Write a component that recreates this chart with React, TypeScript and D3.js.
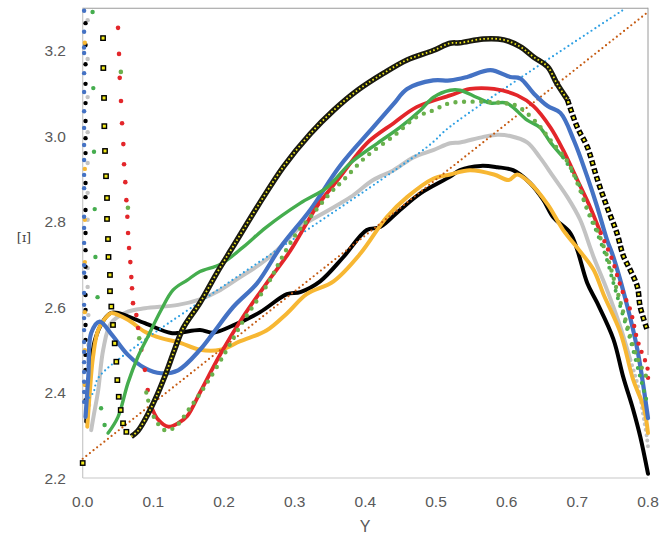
import React from "react";
import * as d3 from "d3";

type P = [number, number];

const xTicks = [0, 0.1, 0.2, 0.3, 0.4, 0.5, 0.6, 0.7, 0.8];
const yTicks = [2.2, 2.4, 2.6, 2.8, 3.0, 3.2];
const xTitle = "Y";
const yTitle = "[ɪ]";

// Black series
const blackDots: P[] = [
  [0.004, 3.264], [0.004, 3.213], [0.004, 3.168], [0.004, 3.122], [0.004, 3.077], [0.004, 3.035],
  [0.004, 2.995], [0.004, 2.96], [0.004, 2.89], [0.004, 2.857], [0.004, 2.827], [0.004, 2.773],
  [0.004, 2.733], [0.004, 2.694], [0.004, 2.67], [0.004, 2.628], [0.004, 2.593], [0.004, 2.558],
  [0.004, 2.523], [0.004, 2.488], [0.004, 2.453], [0.004, 2.418], [0.004, 2.382],
];
const blackLine: P[] = [
  [0.005, 2.332], [0.01, 2.44], [0.0174, 2.523], [0.03, 2.57], [0.04, 2.586], [0.05, 2.586],
  [0.088, 2.562], [0.125, 2.539], [0.138, 2.54], [0.166, 2.546], [0.185, 2.54], [0.213, 2.557],
  [0.251, 2.588], [0.289, 2.63], [0.308, 2.635], [0.336, 2.66], [0.369, 2.717], [0.402, 2.78],
  [0.421, 2.787], [0.449, 2.827], [0.478, 2.866], [0.52, 2.905], [0.534, 2.92], [0.563, 2.93],
  [0.587, 2.927], [0.609, 2.92], [0.633, 2.89], [0.652, 2.85], [0.666, 2.81], [0.69, 2.773],
  [0.7, 2.733], [0.714, 2.656], [0.728, 2.61], [0.751, 2.525], [0.765, 2.436], [0.779, 2.36],
  [0.789, 2.297], [0.8, 2.21],
];

// Blue series
const blueDots: P[] = [
  [0.002, 3.293], [0.002, 3.244], [0.002, 3.207], [0.002, 3.194], [0.002, 3.147], [0.002, 3.103],
  [0.002, 3.058], [0.002, 3.019], [0.002, 2.979], [0.002, 2.944], [0.002, 2.909], [0.002, 2.878],
  [0.002, 2.811], [0.002, 2.785], [0.002, 2.75], [0.002, 2.698], [0.002, 2.68], [0.002, 2.633],
  [0.002, 2.605], [0.002, 2.574], [0.002, 2.546], [0.002, 2.518], [0.002, 2.495], [0.002, 2.471],
  [0.002, 2.448], [0.002, 2.425], [0.002, 2.401], [0.002, 2.378],
];
const blueLine: P[] = [
  [0.004, 2.343], [0.008, 2.44], [0.012, 2.539], [0.024, 2.566], [0.04, 2.538], [0.064, 2.488],
  [0.088, 2.457], [0.111, 2.445], [0.135, 2.452], [0.166, 2.5], [0.185, 2.54], [0.213, 2.6],
  [0.247, 2.656], [0.28, 2.74], [0.322, 2.827], [0.364, 2.93], [0.411, 3.02], [0.44, 3.075],
  [0.459, 3.11], [0.496, 3.13], [0.52, 3.13], [0.544, 3.138], [0.577, 3.154], [0.605, 3.138],
  [0.619, 3.135], [0.638, 3.1], [0.658, 3.07], [0.676, 3.054], [0.695, 2.99], [0.714, 2.905],
  [0.728, 2.835], [0.742, 2.757], [0.751, 2.717], [0.771, 2.6], [0.785, 2.5], [0.8, 2.34],
];

// Gray series
const grayDots: P[] = [
  [0.007, 3.271], [0.007, 3.18], [0.007, 3.091], [0.007, 3.009], [0.007, 2.937], [0.007, 2.867],
  [0.007, 2.804], [0.007, 2.691], [0.007, 2.647], [0.008, 2.581], [0.008, 2.511], [0.009, 2.441],
  [0.009, 2.371],
];
const grayLine: P[] = [
  [0.012, 2.312], [0.016, 2.35], [0.022, 2.406], [0.029, 2.5], [0.04, 2.562], [0.064, 2.589],
  [0.088, 2.597], [0.135, 2.605], [0.166, 2.618], [0.195, 2.64], [0.223, 2.67], [0.251, 2.7],
  [0.27, 2.725], [0.308, 2.787], [0.341, 2.82], [0.379, 2.857], [0.411, 2.897], [0.44, 2.92],
  [0.468, 2.95], [0.496, 2.967], [0.52, 2.983], [0.534, 2.985], [0.567, 2.998], [0.587, 3.003],
  [0.605, 3.0], [0.629, 2.985], [0.647, 2.95], [0.666, 2.905], [0.686, 2.857], [0.704, 2.804],
  [0.718, 2.74], [0.723, 2.717], [0.742, 2.64], [0.761, 2.553], [0.775, 2.476],
];
const grayTail: P[] = [
  [0.775, 2.476], [0.78, 2.45], [0.785, 2.42], [0.789, 2.39], [0.792, 2.36], [0.795, 2.33],
  [0.798, 2.3], [0.8, 2.273],
];

// Gold series
const goldDots: P[] = [
  [0.003, 3.218], [0.003, 2.923], [0.003, 2.804], [0.003, 2.705], [0.003, 2.588], [0.003, 2.499],
  [0.003, 2.418],
];
const goldLine: P[] = [
  [0.0065, 2.32], [0.01, 2.4], [0.0146, 2.483], [0.022, 2.546], [0.036, 2.581], [0.041, 2.586],
  [0.064, 2.57], [0.088, 2.542], [0.111, 2.527], [0.135, 2.518], [0.166, 2.5], [0.195, 2.5],
  [0.223, 2.52], [0.26, 2.545], [0.289, 2.585], [0.317, 2.63], [0.355, 2.66], [0.393, 2.725],
  [0.43, 2.81], [0.459, 2.857], [0.496, 2.9], [0.52, 2.91], [0.548, 2.92], [0.582, 2.91],
  [0.603, 2.897], [0.615, 2.91], [0.633, 2.89], [0.658, 2.84], [0.68, 2.78], [0.704, 2.73],
  [0.723, 2.687], [0.737, 2.63], [0.761, 2.54], [0.779, 2.43], [0.794, 2.365], [0.8, 2.305],
];

// Red series
const redDots: P[] = [
  [0.05, 3.253], [0.0514, 3.192], [0.0524, 3.136], [0.0542, 3.082], [0.0557, 3.03], [0.0575, 2.981],
  [0.0585, 2.934], [0.0603, 2.892], [0.0618, 2.85], [0.0632, 2.811], [0.0642, 2.773], [0.0656, 2.738],
  [0.0674, 2.705], [0.0688, 2.67], [0.0698, 2.644], [0.0712, 2.609], [0.0759, 2.581], [0.0783, 2.551],
  [0.083, 2.5], [0.088, 2.453], [0.092, 2.406],
];
const redLine: P[] = [
  [0.097, 2.367], [0.107, 2.336], [0.121, 2.32], [0.135, 2.328], [0.148, 2.345], [0.166, 2.4],
  [0.195, 2.49], [0.227, 2.577], [0.26, 2.655], [0.294, 2.732], [0.331, 2.834], [0.364, 2.904],
  [0.402, 2.983], [0.44, 3.03], [0.473, 3.068], [0.52, 3.095], [0.548, 3.11], [0.582, 3.11],
  [0.615, 3.095], [0.638, 3.07], [0.662, 3.02], [0.68, 2.967], [0.7, 2.897], [0.718, 2.834],
  [0.733, 2.773],
];
const redTail: P[] = [
  [0.733, 2.773], [0.742, 2.74], [0.751, 2.703], [0.758, 2.665], [0.765, 2.632], [0.775, 2.593],
  [0.785, 2.523], [0.792, 2.49], [0.799, 2.46], [0.8, 2.42],
];

// Green (solid) series
const greenDots: P[] = [
  [0.014, 3.29], [0.015, 3.112], [0.016, 2.963], [0.017, 2.829], [0.018, 2.717], [0.021, 2.623],
  [0.026, 2.363], [0.031, 2.324],
];
const greenLine: P[] = [
  [0.036, 2.305], [0.05, 2.343], [0.064, 2.422], [0.078, 2.483], [0.092, 2.53], [0.111, 2.593],
  [0.128, 2.64], [0.148, 2.663], [0.166, 2.683], [0.195, 2.7], [0.227, 2.74], [0.26, 2.787],
  [0.308, 2.843], [0.346, 2.88], [0.379, 2.937], [0.417, 2.983], [0.449, 3.02], [0.478, 3.06],
  [0.496, 3.09], [0.52, 3.107], [0.534, 3.107], [0.558, 3.09], [0.577, 3.077], [0.6, 3.077],
  [0.629, 3.037], [0.647, 3.02], [0.662, 2.985], [0.68, 2.95],
];
const greenTail: P[] = [
  [0.68, 2.95], [0.695, 2.91], [0.704, 2.88], [0.709, 2.85], [0.718, 2.81], [0.728, 2.773],
  [0.742, 2.71], [0.751, 2.656], [0.761, 2.6], [0.775, 2.523], [0.789, 2.436], [0.799, 2.376],
];

// Green (dotted) series
const green2Dots: P[] = [[0.054, 3.15], [0.064, 2.832], [0.08, 2.527]];
const green2Line: P[] = [
  [0.09, 2.4], [0.1, 2.345], [0.116, 2.312], [0.13, 2.318], [0.15, 2.36], [0.175, 2.42],
  [0.204, 2.5], [0.227, 2.567], [0.247, 2.616], [0.265, 2.663], [0.28, 2.71], [0.303, 2.773],
  [0.322, 2.81], [0.35, 2.866], [0.369, 2.897], [0.4, 2.95], [0.44, 3.0], [0.473, 3.045],
  [0.496, 3.06], [0.52, 3.077], [0.567, 3.08], [0.596, 3.077], [0.615, 3.07], [0.643, 3.03],
  [0.662, 2.99], [0.686, 2.94], [0.7, 2.89], [0.714, 2.83], [0.728, 2.78], [0.742, 2.72],
  [0.756, 2.64], [0.77, 2.56], [0.785, 2.48], [0.8, 2.43],
];

// Square-marker series
const squareDots: P[] = [
  [0.0, 2.235], [0.0288, 3.229], [0.0292, 3.159], [0.0302, 3.089], [0.0306, 3.023], [0.0316, 2.965],
  [0.033, 2.906], [0.0344, 2.855], [0.0344, 2.806], [0.0358, 2.759], [0.0365, 2.717], [0.0386, 2.675],
  [0.0386, 2.637], [0.0405, 2.601], [0.0429, 2.558], [0.0453, 2.515], [0.0476, 2.472], [0.049, 2.429],
  [0.051, 2.39], [0.0538, 2.359], [0.0571, 2.328], [0.0618, 2.308],
];
const squareLine: P[] = [
  [0.0688, 2.297], [0.078, 2.31], [0.088, 2.336], [0.102, 2.382], [0.116, 2.437], [0.13, 2.5],
  [0.142, 2.55], [0.166, 2.61], [0.19, 2.68], [0.213, 2.742], [0.247, 2.834], [0.284, 2.928],
  [0.322, 3.005], [0.355, 3.06], [0.389, 3.107], [0.426, 3.147], [0.459, 3.178], [0.496, 3.2],
  [0.52, 3.217], [0.534, 3.218], [0.567, 3.227], [0.596, 3.225], [0.619, 3.209], [0.638, 3.185],
  [0.658, 3.162], [0.671, 3.123], [0.686, 3.085],
];
const squareTail: P[] = [
  [0.686, 3.085], [0.7, 3.02], [0.714, 2.975], [0.728, 2.9], [0.742, 2.834], [0.756, 2.773],
  [0.765, 2.72], [0.775, 2.686], [0.785, 2.647], [0.789, 2.6], [0.799, 2.546],
];

// Dotted trend lines
const lightBlueLine: P[] = [
  [0.005, 2.38], [0.015, 2.4], [0.022, 2.434], [0.082, 2.516], [0.166, 2.612], [0.488, 2.975],
  [0.52, 3.022], [0.765, 3.295],
];
const brownLine: P[] = [[0.0, 2.245], [0.8, 3.29]];

const W = 670;
const H = 534;
const LEFT = 82.7;
const RIGHT = 648;
const TOP = 7.75;
const BOTTOM = 478;

const C = {
  black: "#000000",
  blue: "#4472c4",
  gray: "#c3c3c3",
  gold: "#f7b733",
  red: "#e3262a",
  green: "#45ad4e",
  green2: "#6ab04c",
  lightBlue: "#2d9fe3",
  brown: "#c55a11",
  sqYellow: "#f2ea1c",
  text: "#595959",
};

export default function App() {
  const x = d3.scaleLinear().domain([0, 0.8]).range([LEFT, RIGHT]);
  const y = d3.scaleLinear().domain([2.2, 3.3]).range([BOTTOM, TOP]);
  const line = d3
    .line<P>()
    .x((d) => x(d[0]))
    .y((d) => y(d[1]))
    .curve(d3.curveCatmullRom.alpha(0.5));
  const straight = d3
    .line<P>()
    .x((d) => x(d[0]))
    .y((d) => y(d[1]));

  const dots = (pts: P[], color: string, r: number, key: string) =>
    pts.map((d, i) => <circle key={key + i} cx={x(d[0])} cy={y(d[1])} r={r} fill={color} />);

  const font = "'Liberation Sans', Arial, sans-serif";

  return (
    <svg
      width={W}
      height={H}
      style={{ position: "absolute", left: 0, top: 0, display: "block", background: "#fff" }}
    >
      <defs>
        <clipPath id="plot">
          <rect x={LEFT - 4} y={TOP - 2} width={RIGHT - LEFT + 8} height={BOTTOM - TOP + 4} />
        </clipPath>
      </defs>
      {/* frame */}
      <line x1={LEFT} x2={RIGHT} y1={TOP + 0.5} y2={TOP + 0.5} stroke="#9a9a9a" strokeWidth={1.2} />
      <line x1={RIGHT} x2={RIGHT} y1={TOP} y2={355} stroke="#9a9a9a" strokeWidth={1} />
      <line x1={LEFT} x2={LEFT} y1={TOP} y2={BOTTOM} stroke="#c8c8c8" strokeWidth={1.2} />
      <line x1={LEFT} x2={RIGHT} y1={BOTTOM} y2={BOTTOM} stroke="#c8c8c8" strokeWidth={1.2} />

      {/* tick labels */}
      {yTicks.map((t) => (
        <text
          key={"y" + t}
          x={66}
          y={y(t) + 5.5}
          textAnchor="end"
          fontFamily={font}
          fontSize={15.5}
          fill={C.text}
        >
          {t.toFixed(1)}
        </text>
      ))}
      {xTicks.map((t) => (
        <text
          key={"x" + t}
          x={x(t)}
          y={507}
          textAnchor="middle"
          fontFamily={font}
          fontSize={15.5}
          fill={C.text}
        >
          {t.toFixed(1)}
        </text>
      ))}
      <text x={365} y={532} textAnchor="middle" fontFamily={font} fontSize={16} fill={C.text}>
        {xTitle}
      </text>
      <text
        x={24}
        y={242}
        textAnchor="middle"
        fontFamily="'DejaVu Serif', 'Liberation Serif', serif"
        fontSize={13}
        fill="#444"
      >
        {yTitle}
      </text>

      <g clipPath="url(#plot)">
        {/* gray */}
        <path d={line(grayLine) ?? ""} fill="none" stroke={C.gray} strokeWidth={4} strokeLinejoin="round" strokeLinecap="round" />
        <path d={line(grayTail) ?? ""} fill="none" stroke={C.gray} strokeWidth={4} strokeDasharray="0 5.5" strokeLinecap="round" />
        {dots(grayDots, C.gray, 2.2, "gd")}
        {/* black */}
        <path d={line(blackLine) ?? ""} fill="none" stroke={C.black} strokeWidth={4} strokeLinejoin="round" strokeLinecap="round" />
        {dots(blackDots, C.black, 2.2, "bd")}
        {/* gold */}
        <path d={line(goldLine) ?? ""} fill="none" stroke={C.gold} strokeWidth={4} strokeLinejoin="round" strokeLinecap="round" />
        {dots(goldDots, C.gold, 2.2, "od")}
        {/* dotted trend lines */}
        <path d={straight(brownLine) ?? ""} fill="none" stroke={C.brown} strokeWidth={2.2} strokeDasharray="0 4.6" strokeLinecap="round" />
        <path d={line(lightBlueLine) ?? ""} fill="none" stroke={C.lightBlue} strokeWidth={2.2} strokeDasharray="0 4.6" strokeLinecap="round" />
        {/* blue */}
        <path d={line(blueLine) ?? ""} fill="none" stroke={C.blue} strokeWidth={4.2} strokeLinejoin="round" strokeLinecap="round" />
        {dots(blueDots, C.blue, 2.2, "ud")}
        {/* red */}
        <path d={line(redLine) ?? ""} fill="none" stroke={C.red} strokeWidth={3.8} strokeLinejoin="round" strokeLinecap="round" />
        <path d={line(redTail) ?? ""} fill="none" stroke={C.red} strokeWidth={4.4} strokeDasharray="0 9" strokeLinecap="round" />
        {dots(redDots, C.red, 2.3, "rd")}
        {/* green solid */}
        <path d={line(greenLine) ?? ""} fill="none" stroke={C.green} strokeWidth={3.4} strokeLinejoin="round" strokeLinecap="round" />
        <path d={line(greenTail) ?? ""} fill="none" stroke={C.green} strokeWidth={4} strokeDasharray="0 8" strokeLinecap="round" />
        {dots(greenDots, C.green, 2.2, "gs")}
        {/* green dotted */}
        <path d={line(green2Line) ?? ""} fill="none" stroke={C.green2} strokeWidth={4.4} strokeDasharray="0 8.5" strokeLinecap="round" />
        {dots(green2Dots, C.green2, 2.3, "g2")}
        {/* squares */}
        <path d={line(squareLine) ?? ""} fill="none" stroke="#1a1a10" strokeWidth={5.5} strokeLinejoin="round" />
        <path d={line(squareLine) ?? ""} fill="none" stroke={C.sqYellow} strokeWidth={1.8} strokeDasharray="1.6 2.4" />
        <path d={line(squareTail) ?? ""} fill="none" stroke="#000" strokeWidth={5.5} strokeDasharray="5.5 2.7" />
        <path d={line(squareTail) ?? ""} fill="none" stroke={C.sqYellow} strokeWidth={2.4} strokeDasharray="2.4 5.8" strokeDashoffset={6.6} />
        {squareDots.map((d, i) => (
          <rect
            key={"sq" + i}
            x={x(d[0]) - 2.2}
            y={y(d[1]) - 2.2}
            width={4.4}
            height={4.4}
            fill={C.sqYellow}
            stroke="#000"
            strokeWidth={1.4}
          />
        ))}
      </g>
    </svg>
  );
}
